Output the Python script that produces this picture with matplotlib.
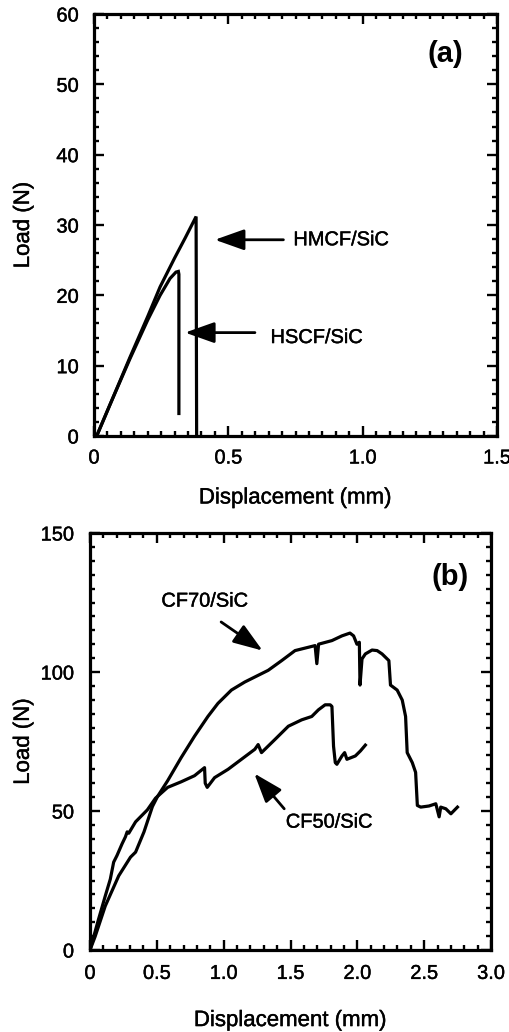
import matplotlib
matplotlib.use("Agg")
import matplotlib.pyplot as plt
import matplotlib.patheffects as pe
from matplotlib.ticker import MultipleLocator, FixedLocator, FixedFormatter

plt.rcParams['font.family'] = ['Liberation Sans', 'DejaVu Sans']

# ---------------- data: panel (a) ----------------
hmcf_disp = [0.01, 0.06, 0.134, 0.20, 0.246, 0.30, 0.34, 0.38, 0.382]
hmcf_load = [0.0, 4.5, 11.2, 17.0, 21.2, 25.3, 28.2, 31.2, 0.0]

hscf_disp = [0.01, 0.06, 0.134, 0.20, 0.246, 0.283, 0.305, 0.314, 0.316, 0.316]
hscf_load = [0.0, 4.5, 11.0, 16.5, 20.0, 22.4, 23.3, 23.4, 23.0, 3.2]

a_xticks = [0, 0.5, 1.0, 1.5]
a_xticklabels = ['0', '0.5', '1.0', '1.5']
a_yticks = [0, 10, 20, 30, 40, 50, 60]
a_yticklabels = ['0', '10', '20', '30', '40', '50', '60']

# ---------------- data: panel (b) ----------------
cf70_disp = [0, 0.038, 0.114, 0.215, 0.303, 0.341, 0.404, 0.467, 0.505, 0.581,
             0.682, 0.782, 0.882, 0.957, 1.058, 1.158, 1.258, 1.333, 1.434, 1.534,
             1.634, 1.684, 1.697, 1.71, 1.81, 1.885, 1.945, 1.972, 1.997, 2.015,
             2.02, 2.035, 2.06, 2.11, 2.148, 2.185, 2.236, 2.248, 2.298, 2.336,
             2.361, 2.373, 2.411, 2.436, 2.449, 2.474, 2.536, 2.587, 2.612, 2.624,
             2.662, 2.70, 2.749]
cf70_load = [0, 4.8, 15.8, 26.7, 33.4, 35.2, 42.5, 51.6, 55.2, 60.9,
             69.2, 76.9, 84.0, 88.7, 93.5, 96.4, 98.8, 100.6, 104.1, 107.7,
             108.9, 109.5, 103.0, 110.0, 111.3, 113.0, 114.0, 113.0, 110.0, 110.7,
             95.3, 104.7, 106.5, 107.9, 107.7, 106.5, 104.1, 95.3, 93.5, 89.9,
             84.0, 71.0, 67.4, 63.9, 52.0, 51.4, 51.8, 52.6, 47.9, 51.4,
             50.8, 49.0, 51.4]

cf50_disp = [0, 0.063, 0.114, 0.152, 0.177, 0.202, 0.24, 0.265, 0.278, 0.29,
             0.341, 0.429, 0.49, 0.581, 0.682, 0.782, 0.857, 0.862, 0.877, 0.932,
             1.033, 1.133, 1.233, 1.258, 1.283, 1.383, 1.484, 1.584, 1.659, 1.709,
             1.759, 1.797, 1.81, 1.822, 1.835, 1.847, 1.885, 1.905, 1.922, 1.985,
             2.023, 2.06]
cf50_load = [0, 10.9, 19.4, 25.5, 31.6, 34.0, 38.2, 40.7, 42.5, 42.0,
             46.1, 50.4, 54.6, 58.5, 60.5, 62.7, 65.6, 60.0, 58.5, 62.0,
             65.0, 68.6, 72.2, 73.9, 71.0, 75.7, 80.5, 82.8, 84.0, 86.4,
             88.2, 88.2, 87.6, 73.3, 67.4, 66.8, 69.8, 71.0, 68.6, 69.8,
             71.6, 73.7]

b_xticks = [0, 0.5, 1.0, 1.5, 2.0, 2.5, 3.0]
b_xticklabels = ['0', '0.5', '1.0', '1.5', '2.0', '2.5', '3.0']
b_yticks = [0, 50, 100, 150]
b_yticklabels = ['0', '50', '100', '150']

W, H = 509, 1032
fig = plt.figure(figsize=(W / 100, H / 100), dpi=100)

ax1 = fig.add_axes([94 / W, 1 - 436 / H, 403 / W, 422 / H])
ax2 = fig.add_axes([90 / W, 1 - 950 / H, 401 / W, 417 / H])

LW = 2.3
TICK_FS = 14.4
HEAVY = [pe.withStroke(linewidth=0.3, foreground='black')]


def style(ax, xt, xtl, yt, ytl, xminor, yminor, xpad, ypad):
    for s in ax.spines.values():
        s.set_linewidth(2.3)
    ax.xaxis.set_major_locator(FixedLocator(xt))
    ax.xaxis.set_major_formatter(FixedFormatter(xtl))
    ax.yaxis.set_major_locator(FixedLocator(yt))
    ax.yaxis.set_major_formatter(FixedFormatter(ytl))
    ax.xaxis.set_minor_locator(MultipleLocator(xminor))
    ax.yaxis.set_minor_locator(MultipleLocator(yminor))
    ax.tick_params(which='both', direction='in', top=True, right=True, width=1.7)
    ax.tick_params(which='major', length=7.5)
    ax.tick_params(which='minor', length=3.8)
    ax.tick_params(axis='x', which='major', pad=xpad, labelsize=TICK_FS)
    ax.tick_params(axis='y', which='major', pad=ypad, labelsize=TICK_FS)
    for lab in ax.get_xticklabels() + ax.get_yticklabels():
        lab.set_path_effects(HEAVY)


# ---------------- panel (a) ----------------
ax1.plot(hmcf_disp, hmcf_load, color='black', lw=LW, solid_joinstyle='miter')
ax1.plot(hscf_disp, hscf_load, color='black', lw=LW, solid_joinstyle='miter')
ax1.set_xlim(0, 1.5)
ax1.set_ylim(0, 60)
style(ax1, a_xticks, a_xticklabels, a_yticks, a_yticklabels, 0.05, 2, 9, 11)
ax1.set_xlabel('Displacement (mm)', fontsize=16, path_effects=HEAVY)
ax1.set_ylabel('Load (N)', fontsize=16, path_effects=HEAVY)
ax1.xaxis.set_label_coords(0.5, -0.122)
ax1.yaxis.set_label_coords(-0.149, 0.5)

arrow_kw = dict(arrowstyle='-|>,head_length=0.9,head_width=0.32',
                color='black', lw=2.0, mutation_scale=20, shrinkA=0, shrinkB=0)
ax1.annotate('', xy=(0.45, 27.9), xytext=(0.705, 27.9), arrowprops=arrow_kw)
ax1.text(0.742, 27.9, 'HMCF/SiC', fontsize=TICK_FS, ha='left', va='center',
         path_effects=HEAVY)
ax1.annotate('', xy=(0.339, 14.7), xytext=(0.599, 14.7), arrowprops=arrow_kw)
ax1.text(0.657, 14.0, 'HSCF/SiC', fontsize=TICK_FS, ha='left', va='center',
         path_effects=HEAVY)
ax1.text(1.306, 54.3, '(a)', fontsize=21, fontweight='bold', ha='center', va='center')

# ---------------- panel (b) ----------------
ax2.plot(cf70_disp, cf70_load, color='black', lw=LW)
ax2.plot(cf50_disp, cf50_load, color='black', lw=LW)
ax2.set_xlim(0, 3.0)
ax2.set_ylim(0, 150)
style(ax2, b_xticks, b_xticklabels, b_yticks, b_yticklabels, 0.1, 5, 10, 11.5)
ax2.set_xlabel('Displacement (mm)', fontsize=16, path_effects=HEAVY)
ax2.set_ylabel('Load (N)', fontsize=16, path_effects=HEAVY)
ax2.xaxis.set_label_coords(0.5, -0.144)
ax2.yaxis.set_label_coords(-0.140, 0.5)

ax2.annotate('', xy=(1.291, 107.7), xytext=(0.981, 118.0), arrowprops=arrow_kw)
ax2.text(0.534, 125.5, 'CF70/SiC', fontsize=TICK_FS, ha='left', va='center',
         path_effects=HEAVY)
ax2.annotate('', xy=(1.229, 63.5), xytext=(1.453, 50.8), arrowprops=arrow_kw)
ax2.text(1.465, 46.0, 'CF50/SiC', fontsize=TICK_FS, ha='left', va='center',
         path_effects=HEAVY)
ax2.text(2.695, 134.3, '(b)', fontsize=21, fontweight='bold', ha='center', va='center')

fig.savefig('out.png', dpi=100)
